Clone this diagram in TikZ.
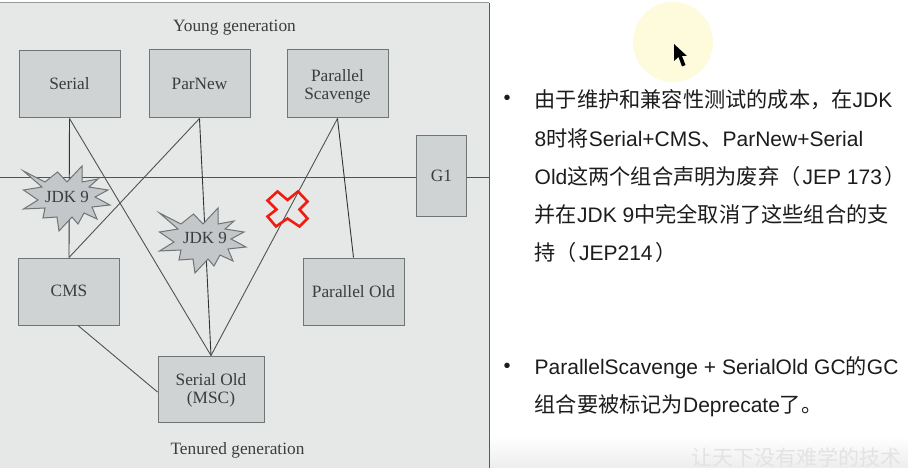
\documentclass[tikz,border=0pt]{standalone}
\usepackage{fontspec}
\setmainfont{Liberation Serif}
\newfontfamily\latf{Liberation Sans}
\newfontfamily\cjkf{Noto Sans CJK SC}
\newcommand{\cn}[1]{{\cjkf\fontsize{21.2}{21}\selectfont #1}}
\definecolor{panelbg}{HTML}{E6E7E7}
\definecolor{boxbg}{HTML}{D0D3D3}
\definecolor{boxln}{HTML}{6F7474}
\definecolor{inkc}{HTML}{3A3D3D}
\definecolor{linec}{HTML}{505353}
\definecolor{burstbg}{HTML}{C3C7CA}
\definecolor{halo}{HTML}{FDFBDC}
\definecolor{bodytx}{HTML}{1C1C1C}
\definecolor{crossred}{HTML}{F01C10}
\tikzset{
  gcbox/.style={draw=boxln,fill=boxbg,line width=1pt,inner sep=0pt,align=center,
    text=inkc,font=\fontsize{17.3}{18}\selectfont},
  gclink/.style={draw=linec,line width=0.9pt},
  gentext/.style={text=inkc,inner sep=0pt,font=\fontsize{17.3}{18}\selectfont},
  burstlabel/.style={text=inkc,inner sep=0pt,font=\fontsize{17}{18}\selectfont},
  burstshape/.style={draw=boxln,fill=burstbg,line width=1pt,line join=miter},
  linetext/.style={anchor=west,inner sep=0pt,text=bodytx,font=\latf\fontsize{21}{22}\selectfont},
  bullet/.style={inner sep=0pt,text=bodytx,font=\latf\fontsize{20}{22}\selectfont}
}
\newcommand{\burstat}[2]{%
  \path[burstshape,shift={(#1,#2)}]
  (-43.5,-26) -- (-22,-15) -- (-9.5,-25) -- (0,-15) -- (15,-31) -- (15,-15) -- (31,-18) -- (22,-10)
  -- (41,-7) -- (28,0) -- (43,8) -- (25,10) -- (30,22) -- (17,16) -- (11,27) -- (5,20)
  -- (-8,34) -- (-10,20) -- (-24,21) -- (-22,11) -- (-43.5,12) -- (-29,3) -- (-43.5,-7) -- (-25,-10) -- cycle;}
\begin{document}
\begin{tikzpicture}[x=1pt,y=-1pt]
\useasboundingbox (0,0) rectangle (908,468);
\fill[white] (0,0) rectangle (908,468);
\shade[top color=white,bottom color=black!7] (489,436) rectangle (908,468);
% panel
\fill[panelbg] (0,3) rectangle (489,468);
\draw[draw=black!40,line width=1pt] (0,3) -- (489,3);
\draw[draw=black!65,line width=1pt] (489,3) -- (489,468);
% halo and pointer
\fill[halo] (673,42) circle (40);
\fill[black] (674,44) -- (674,61) -- (678.5,57) -- (682,66.5) -- (685.5,65) -- (682,56) -- (687,56) -- cycle;
% boxes
\node[gcbox,minimum width=101pt,minimum height=67pt] (Serial) at (69.5,84.5) {\raisebox{1.5pt}{Serial}};
\node[gcbox,minimum width=101pt,minimum height=68pt] (ParNew) at (199.5,84) {ParNew};
\node[gcbox,minimum width=101pt,minimum height=68pt] (PS) at (337.5,84) {\rule{0pt}{16pt}Parallel\\Scavenge};
\node[gcbox,minimum width=50pt,minimum height=80pt] (G1) at (441.5,176) {G1};
\node[gcbox,minimum width=101pt,minimum height=67pt] (CMS) at (69,291.5) {\raisebox{1pt}{CMS}};
\node[gcbox,minimum width=101pt,minimum height=67pt] (PO) at (353.5,291.5) {\raisebox{1pt}{Parallel Old}};
\node[gcbox,minimum width=106pt,minimum height=66pt] (SO) at (211,389) {\rule{0pt}{14pt}Serial Old\\(MSC)};
\coordinate (LL) at (0,177);
\coordinate (LR) at (489,177);
% connectors
\draw[gclink] (LL) -- (LL -| G1.west);
\draw[gclink] (LR -| G1.east) -- (LR);
\draw[gclink,draw=black!80] (Serial.south) -- (CMS.north);
\draw[gclink] (Serial.south) -- (SO.north);
\draw[gclink] (ParNew.south) -- (CMS.north);
\draw[gclink,draw=black!80] (ParNew.south) -- (SO.north);
\draw[gclink] (PS.south) -- (SO.north);
\draw[gclink,draw=black!80] (PS.south) -- (PO.north);
\draw[gclink] ([xshift=9pt]CMS.south) -- ([yshift=-3pt]SO.west);
% bursts
\burstat{67}{197}
\burstat{203}{239}
\node[burstlabel] (J1) at (67,197) {JDK 9};
\node[burstlabel] (J2) at (205,238) {JDK 9};
% red cross
\draw[crossred,line width=2.6pt,line join=miter]
  (277.5,191.5) -- (287.5,200) -- (298,191.5) -- (307.5,201.5) -- (299.5,209.5) -- (307.5,218.5)
  -- (299.5,226.5) -- (287.5,218.5) -- (276,226.5) -- (267.5,216.5) -- (276.5,209.5) -- (267.5,200.5) -- cycle;
% titles
\node[gentext] (T1) at (234.5,27.5) {Young generation};
\node[gentext] (T2) at (237.5,450.5) {Tenured generation};
% right text
\node[bullet] (B1) at (507,100) {•};
\node[linetext] (L1) at (534.5,100) {\cn{由于维护和兼容性测试的成本，在}JDK};
\node[linetext] (L2) at (534.5,138) {8\cn{时将}Serial+CMS\cn{、}ParNew+Serial};
\node[linetext] (L3) at (534.5,176) {Old\cn{这两个组合声明为废弃（}\hspace{2pt}JEP 173\hspace{3pt}\cn{）}};
\node[linetext] (L4) at (534.5,214) {\cn{并在}JDK 9\cn{中完全取消了这些组合的支}};
\node[linetext] (L5) at (534.5,252) {\cn{持（}\hspace{2pt}JEP214\hspace{3pt}\cn{）}};
\node[bullet] (B2) at (507,367.5) {•};
\node[linetext] (L6) at (534.5,367.5) {ParallelScavenge + SerialOld GC\cn{的}GC};
\node[linetext] (L7) at (534.5,405.5) {\cn{组合要被标记为}Deprecate\cn{了。}};
\node[anchor=east,inner sep=0pt,text=black!11,font=\cjkf\fontsize{21}{21}\selectfont] (WM) at (902,457) {让天下没有难学的技术};
\end{tikzpicture}
\end{document}
